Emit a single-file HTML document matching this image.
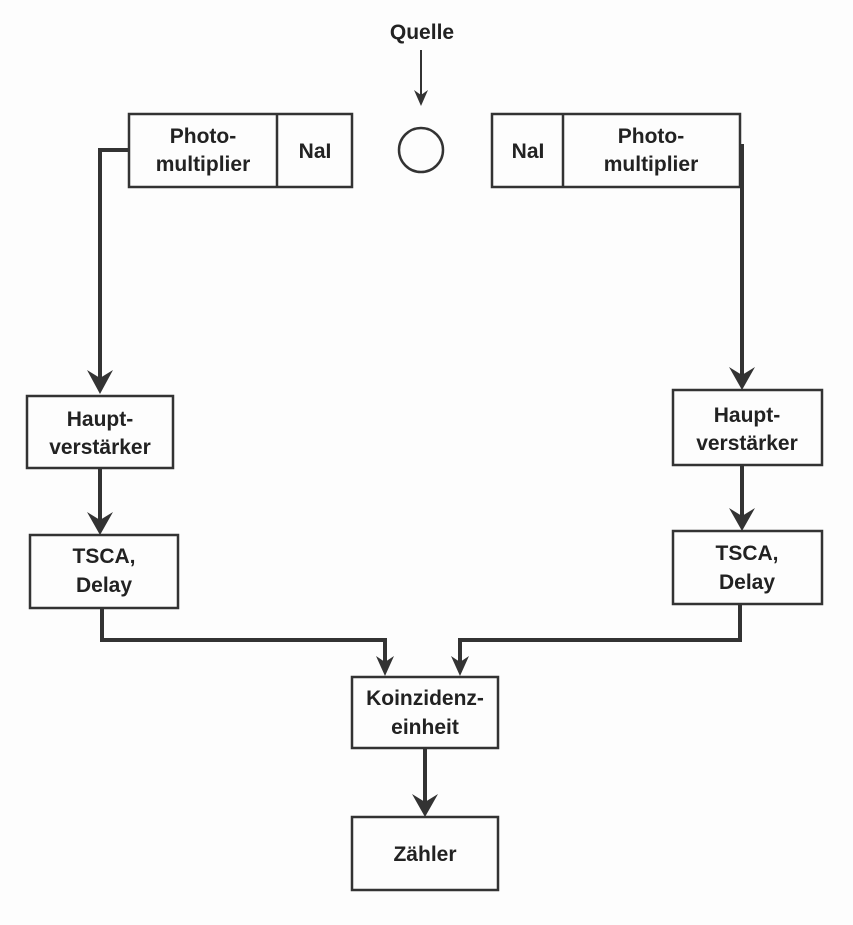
<!DOCTYPE html>
<html><head><meta charset="utf-8"><style>
html,body{margin:0;padding:0;background:#fdfdfd;}
svg{display:block}
text{font-family:"Liberation Sans",Arial,sans-serif;font-weight:bold;font-size:21px;fill:#222;text-anchor:middle}
</style></head><body>
<svg width="853" height="925" viewBox="0 0 853 925" xmlns="http://www.w3.org/2000/svg">
<g fill="none" stroke="#333" stroke-width="2.5">
<rect x="129" y="114" width="223" height="73"/>
<line x1="277" y1="114" x2="277" y2="187"/>
<rect x="492" y="114" width="248" height="73"/>
<line x1="563" y1="114" x2="563" y2="187"/>
<circle cx="421" cy="150" r="22"/>
<rect x="27" y="396" width="146" height="72"/>
<rect x="30" y="535" width="148" height="73"/>
<rect x="673" y="390" width="149" height="75"/>
<rect x="673" y="531" width="149" height="73"/>
<rect x="352" y="677" width="146" height="71"/>
<rect x="352" y="817" width="146" height="73"/>
</g>
<g fill="none" stroke="#333" stroke-width="4">
<polyline points="129,150 100,150 100,380"/>
<line x1="100" y1="468" x2="100" y2="522"/>
<polyline points="740,146 742,146 742,377"/>
<line x1="742" y1="465" x2="742" y2="518"/>
<polyline points="102,608 102,640 385,640 385,662"/>
<polyline points="740,604 740,640 460,640 460,662"/>
<line x1="425" y1="748" x2="425" y2="802"/>
</g>
<line x1="421" y1="50" x2="421" y2="96" stroke="#333" stroke-width="2"/>
<g fill="#333">
<polygon points="87,370 100,378 113,370 100,394"/>
<polygon points="87,512 100,520 113,512 100,535"/>
<polygon points="729,367 742,375 755,367 742,390"/>
<polygon points="729,508 742,516 755,508 742,531"/>
<polygon points="376,656 385,662 394,656 385,676"/>
<polygon points="451,656 460,662 469,656 460,676"/>
<polygon points="412,794 425,802 438,794 425,817"/>
<polygon points="414,90 421,95 428,90 421,106"/>
</g>
<text x="422" y="39">Quelle</text>
<text x="203" y="143">Photo-</text>
<text x="203" y="171">multiplier</text>
<text x="315" y="158">NaI</text>
<text x="528" y="158">NaI</text>
<text x="651" y="143">Photo-</text>
<text x="651" y="171">multiplier</text>
<text x="100" y="426">Haupt-</text>
<text x="100" y="454">verstärker</text>
<text x="104" y="563">TSCA,</text>
<text x="104" y="592">Delay</text>
<text x="747" y="422">Haupt-</text>
<text x="747" y="450">verstärker</text>
<text x="747" y="560">TSCA,</text>
<text x="747" y="589">Delay</text>
<text x="425" y="705">Koinzidenz-</text>
<text x="425" y="734">einheit</text>
<text x="425" y="861">Zähler</text>
</svg>
</body></html>
